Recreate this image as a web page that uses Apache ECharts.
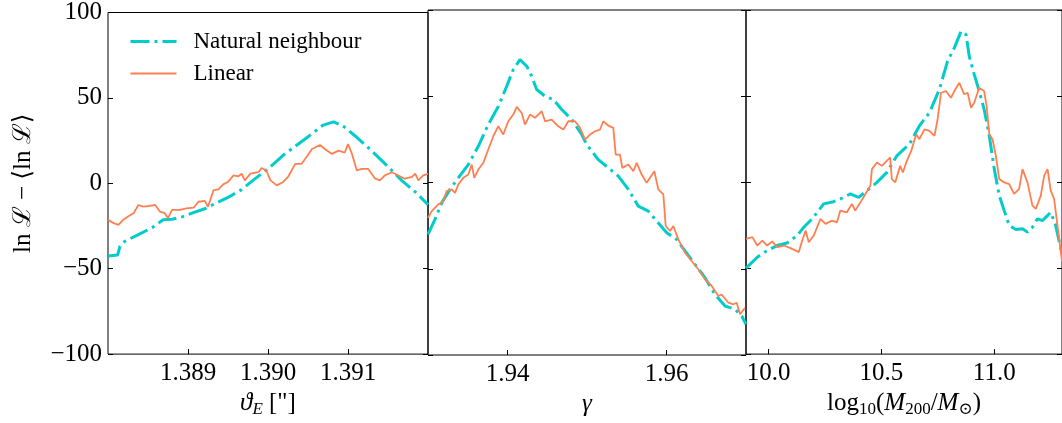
<!DOCTYPE html>
<html>
<head>
<meta charset="utf-8">
<script src="https://cdn.jsdelivr.net/npm/echarts@6/dist/echarts.min.js"></script>
<style>
html,body{margin:0;padding:0;background:#fff;}
#chart{width:1062px;height:423px;}
</style>
</head>
<body>
<div id="chart"></div>
<script>
// ---------- DATA ----------
const seriesNames = ['Natural neighbour', 'Linear'];
const yTicks = [-100, -50, 0, 50, 100];
const xTicksTheta = [1.389, 1.390, 1.391];
const xTicksGamma = [1.94, 1.96];
const xTicksMass = [10.0, 10.5, 11.0];

// Panel 1: theta_E
const nnTheta = [[1.38800,-42.5],[1.38812,-42],[1.38815,-36.8],[1.38821,-34],[1.38838,-30],[1.38855,-26],[1.38869,-21.4],[1.38880,-21],[1.38892,-19.8],[1.38905,-17.5],[1.38921,-14.9],[1.38934,-11.8],[1.38950,-8.3],[1.38967,-3.7],[1.38984,2.7],[1.39000,8.5],[1.39021,17.2],[1.39046,25.8],[1.39069,34.1],[1.39082,36],[1.39094,33.5],[1.39109,27.7],[1.39125,21],[1.39138,15.2],[1.39150,9.8],[1.39167,1.7],[1.39184,-5],[1.39200,-12.5]];
const linTheta = [[1.38800,-21.4],[1.38807,-23.3],[1.38813,-24.3],[1.38819,-21.4],[1.38825,-19.5],[1.38832,-17.5],[1.38838,-12.7],[1.38844,-13.7],[1.38850,-13.3],[1.38859,-12.7],[1.38865,-16.6],[1.38871,-17.5],[1.38875,-20.4],[1.38880,-15.6],[1.38890,-15.6],[1.38898,-14.7],[1.38907,-14.3],[1.38913,-10.8],[1.38921,-10.3],[1.38925,-13.7],[1.38932,-4],[1.38938,-3.5],[1.38944,-0.6],[1.38950,0.8],[1.38957,4.6],[1.38963,4.1],[1.38967,5.6],[1.38971,1.7],[1.38978,5.6],[1.38988,6.5],[1.38992,9],[1.38998,7.5],[1.39003,1.7],[1.39011,-1.2],[1.39019,0.8],[1.39025,3.7],[1.39034,11.4],[1.39042,11.4],[1.39048,15.2],[1.39055,20.1],[1.39065,22.4],[1.39071,20.1],[1.39080,17.2],[1.39088,19.1],[1.39096,18],[1.39100,23],[1.39105,17.2],[1.39111,7.5],[1.39117,8.5],[1.39125,8.5],[1.39134,2.7],[1.39140,1.7],[1.39146,4.6],[1.39155,6.5],[1.39163,4.6],[1.39171,2.7],[1.39180,3.7],[1.39184,5.6],[1.39188,1.7],[1.39194,4.6],[1.39200,5.6]];

// Panel 2: gamma
const nnGamma = [[1.93000,-30.1],[1.93088,-21.4],[1.93172,-11.8],[1.93277,-4],[1.93381,2.7],[1.93507,10.4],[1.93633,21],[1.93758,33.6],[1.93884,44],[1.93990,55.8],[1.94073,65.5],[1.94157,71.2],[1.94242,67.4],[1.94304,61.6],[1.94367,53.9],[1.94472,50],[1.94576,48.1],[1.94682,42.3],[1.94808,36.5],[1.94933,27.8],[1.94996,22],[1.95142,13.3],[1.95268,8.5],[1.95394,3.7],[1.95520,-4],[1.95645,-13.7],[1.95771,-16.6],[1.95877,-22.4],[1.96003,-29.1],[1.96128,-33],[1.96233,-39.7],[1.96359,-47.5],[1.96484,-55.2],[1.96610,-64.9],[1.96736,-71.6],[1.96862,-73.5],[1.96946,-77.4],[1.97000,-82.2]];
const linGamma = [[1.93000,-20.4],[1.93047,-16.6],[1.93130,-12.7],[1.93192,-10.8],[1.93235,-5],[1.93298,-4],[1.93340,-6],[1.93381,-1.2],[1.93444,2.7],[1.93507,4.6],[1.93550,10.4],[1.93582,2.7],[1.93633,7.5],[1.93696,11.4],[1.93758,19.1],[1.93821,26.8],[1.93884,32.6],[1.93947,27.8],[1.94010,35.5],[1.94073,39.4],[1.94116,43.8],[1.94179,40.3],[1.94220,33.6],[1.94283,39.4],[1.94346,37.5],[1.94430,41.3],[1.94472,35.5],[1.94556,36.5],[1.94639,32.6],[1.94702,30.7],[1.94765,35.5],[1.94849,35.5],[1.94912,31.7],[1.94975,24.9],[1.95038,27.8],[1.95101,29.7],[1.95164,30.7],[1.95205,35.5],[1.95268,33],[1.95331,31.7],[1.95361,16.2],[1.95415,16.2],[1.95444,8.5],[1.95520,10.4],[1.95583,6.5],[1.95625,11.4],[1.95688,4.6],[1.95751,-0.2],[1.95792,2.7],[1.95847,6.5],[1.95897,-4],[1.95960,-6.9],[1.95990,-25.2],[1.96044,-28.1],[1.96086,-25.2],[1.96149,-33],[1.96233,-40.7],[1.96317,-45.5],[1.96400,-50.3],[1.96484,-56.1],[1.96569,-60],[1.96652,-65.8],[1.96694,-64.9],[1.96778,-69.7],[1.96840,-70.6],[1.96883,-69.7],[1.96925,-76.4],[1.96988,-72.6]];

// Panel 3: log10(M200/Msun)
const nnMass = [[9.900,-50],[9.950,-43.7],[9.994,-39.8],[10.038,-36.9],[10.082,-35.4],[10.127,-31.1],[10.156,-26.3],[10.193,-21.4],[10.244,-12.7],[10.288,-11.4],[10.318,-9.8],[10.362,-6.9],[10.399,-8.9],[10.436,-5],[10.480,-0.2],[10.524,5.6],[10.568,15.2],[10.624,22],[10.668,32.6],[10.713,40.4],[10.757,53.9],[10.793,70.3],[10.823,78],[10.853,87.6],[10.875,85.7],[10.889,73.2],[10.911,62.6],[10.933,52.9],[10.955,42.3],[10.978,26.8],[11.000,7.5],[11.022,-7.9],[11.044,-16.6],[11.066,-25.2],[11.096,-27.6],[11.125,-27.1],[11.147,-29.1],[11.169,-26.3],[11.191,-21.4],[11.213,-22.4],[11.250,-17.6],[11.272,-25.2],[11.300,-42]];
const linMass = [[9.900,-33],[9.928,-32],[9.950,-36.9],[9.972,-34],[9.994,-36.9],[10.016,-34.5],[10.038,-37.8],[10.068,-36.9],[10.097,-38.4],[10.134,-40.7],[10.149,-34],[10.164,-28.2],[10.178,-35],[10.200,-31.1],[10.230,-21.4],[10.252,-24.3],[10.281,-22.4],[10.303,-23.4],[10.318,-16.6],[10.347,-17.6],[10.369,-12.7],[10.384,-16.6],[10.407,-11.8],[10.429,-6.9],[10.451,-2.1],[10.458,7.5],[10.480,11.4],[10.502,9.4],[10.539,14.3],[10.546,1.7],[10.561,-0.2],[10.583,9.4],[10.595,5.6],[10.610,11.4],[10.632,18.1],[10.654,27.8],[10.668,24.9],[10.691,30.7],[10.713,29.7],[10.735,26.8],[10.749,36.5],[10.764,51.9],[10.786,52.9],[10.808,49],[10.823,52.9],[10.845,57.7],[10.867,51],[10.882,51.9],[10.897,43.2],[10.911,46.1],[10.933,54.8],[10.955,52.9],[10.966,44.1],[10.978,27.8],[10.992,24.9],[11.007,15.2],[11.022,1.7],[11.044,-0.2],[11.066,-1.2],[11.088,-6.9],[11.110,-4],[11.125,7.5],[11.147,-0.2],[11.169,-13.7],[11.184,-15.6],[11.206,-7.9],[11.221,3.7],[11.236,7.5],[11.250,-5],[11.265,-9.8],[11.280,-25.2],[11.300,-46]];

// ---------- STYLE ----------
const FONT = "'Liberation Serif','DejaVu Serif',serif";
const CYAN = '#00cccc';
const ORANGE = '#ff7f50';
const TICK_FS = 25;

const panels = [
  {left:108, width:320, min:1.388, max:1.392, ticks:xTicksTheta, dec:3,
   name:'{i|ϑ}{isub|E} ["]', nn:nnTheta, lin:linTheta},
  {left:428, width:318, min:1.93, max:1.97, ticks:xTicksGamma, dec:2,
   name:'{i|γ}', nn:nnGamma, lin:linGamma},
  {left:746, width:317, min:9.9, max:11.3, ticks:xTicksMass, dec:1,
   name:'log{sub|10}({i|M}{sub|200}/{i|M}{sub|⊙})', nn:nnMass, lin:linMass}
];

const richName = {
  i:{fontFamily:FONT, fontStyle:'italic', fontSize:25, color:'#000'},
  sub:{fontFamily:FONT, fontSize:17, color:'#000', padding:[12,0,0,0]},
  isub:{fontFamily:FONT, fontStyle:'italic', fontSize:17, color:'#000', padding:[12,0,0,0]}
};

const grid = [], xAxis = [], yAxis = [], series = [];
panels.forEach((p, k) => {
  grid.push({left:p.left, top:10, width:p.width, height:345, show:true,
    borderColor:'#000', borderWidth:1, backgroundColor:'transparent', containLabel:false});
  xAxis.push({
    type:'value', gridIndex:k, min:p.min, max:p.max, position:'bottom',
    axisLine:{show:false, onZero:false}, splitLine:{show:false},
    axisTick:{show:true, inside:true, length:5, customValues:p.ticks, lineStyle:{color:'#000', width:1}},
    axisLabel:{show:true, customValues:p.ticks, margin:7, color:'#000', fontFamily:FONT, fontSize:TICK_FS,
      formatter:v => Number(v).toFixed(p.dec)},
    name:p.name, nameLocation:'middle', nameGap:32,
    nameTextStyle:{fontFamily:FONT, fontSize:25, color:'#000', rich:richName}
  });
  const yl = {
    type:'value', gridIndex:k, min:yTicks[0], max:yTicks[yTicks.length-1], interval:50, position:'left',
    axisLine:{show:false, onZero:false}, splitLine:{show:false},
    axisTick:{show:true, inside:true, length:5, lineStyle:{color:'#000', width:1}},
    axisLabel:{show:k===0, margin:6, color:'#000', fontFamily:FONT, fontSize:TICK_FS,
      formatter:v => (v < 0 ? '\u2212' + Math.abs(v) : String(v))}
  };
  if (k === 0) {
    yl.name = 'ln \u2112 \u2212 \u27E8ln \u2112\u27E9';
    yl.nameLocation = 'middle';
    yl.nameRotate = 90;
    yl.nameGap = 72;
    yl.nameTextStyle = {fontFamily:FONT, fontSize:25, color:'#000'};
  }
  yAxis.push(yl);
  yAxis.push({
    type:'value', gridIndex:k, min:yTicks[0], max:yTicks[yTicks.length-1], interval:50, position:'right',
    axisLine:{show:false, onZero:false}, splitLine:{show:false},
    axisTick:{show:true, inside:true, length:5, lineStyle:{color:'#000', width:1}},
    axisLabel:{show:false}
  });
  series.push({
    name:seriesNames[0], type:'line', xAxisIndex:k, yAxisIndex:2*k, data:p.nn,
    showSymbol:false, symbol:'none', smooth:false, clip:true, animation:false,
    lineStyle:{color:CYAN, width:3, type:[19,5,3,5], cap:'butt'}, itemStyle:{color:CYAN}, z:2
  });
  series.push({
    name:seriesNames[1], type:'line', xAxisIndex:k, yAxisIndex:2*k, data:p.lin,
    showSymbol:false, symbol:'none', smooth:false, clip:true, animation:false,
    lineStyle:{color:ORANGE, width:1.8}, itemStyle:{color:ORANGE}, z:3
  });
});

const chart = echarts.init(document.getElementById('chart'), null, {renderer:'canvas'});
chart.setOption({
  animation:false,
  backgroundColor:'#fff',
  grid, xAxis, yAxis, series,
  legend:{
    data:[
      {name:seriesNames[0], lineStyle:{width:3, type:[19,5,3,5], color:CYAN}},
      {name:seriesNames[1], lineStyle:{width:2, type:'solid', color:ORANGE}}
    ],
    orient:'vertical', left:124, top:25, itemWidth:46, itemHeight:14, itemGap:9,
    itemStyle:{opacity:0},
    textStyle:{fontFamily:FONT, fontSize:23, color:'#000', padding:[0,0,0,12]},
    selectedMode:false
  }
});
</script>
</body>
</html>
